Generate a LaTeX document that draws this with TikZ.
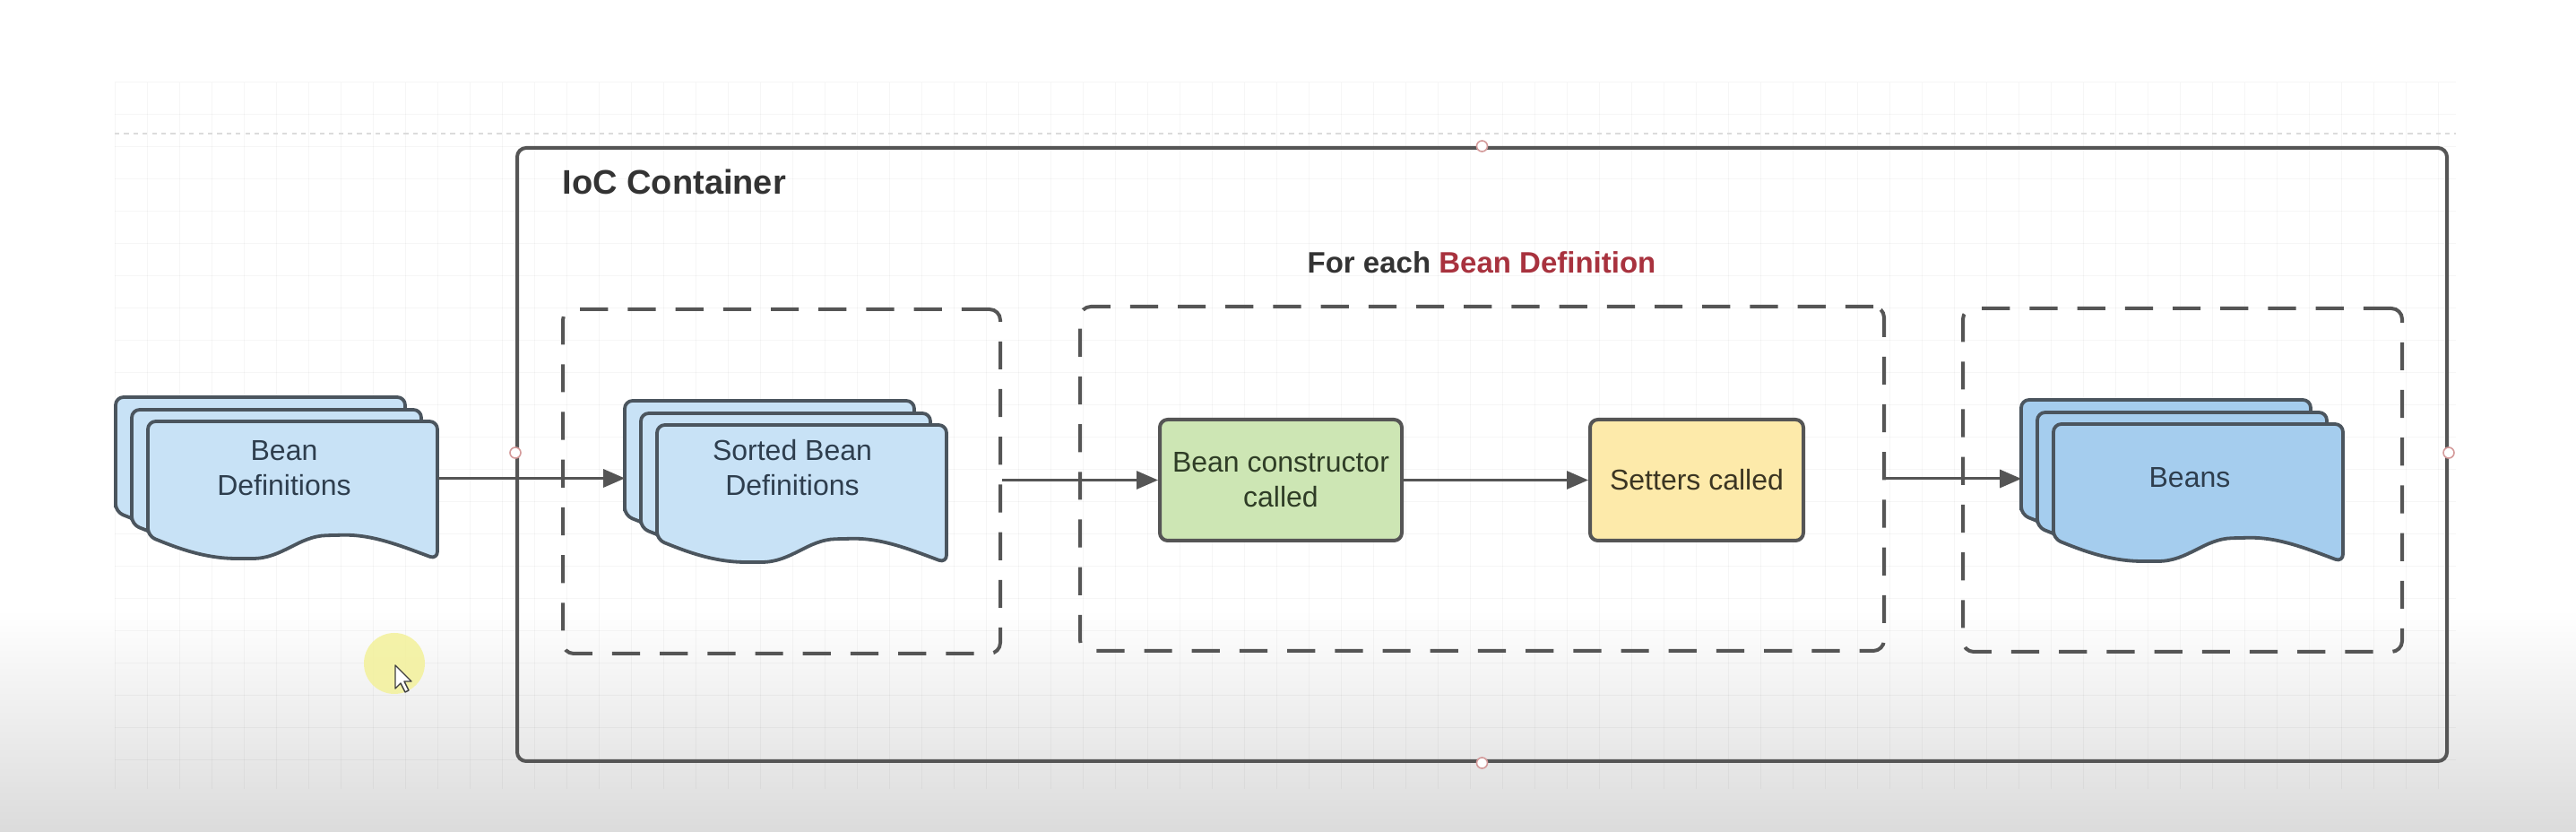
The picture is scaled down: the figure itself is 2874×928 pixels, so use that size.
\documentclass[tikz,border=0pt]{standalone}
\usepackage{fontspec}
\setmainfont{Liberation Sans}
\usetikzlibrary{arrows.meta,calc}
\definecolor{sheetblue}{HTML}{C8E2F6}
\definecolor{beanblue}{HTML}{A5CDEE}
\definecolor{boxgreen}{HTML}{CDE6B4}
\definecolor{boxyellow}{HTML}{FDEAAA}
\definecolor{beanred}{HTML}{A8323E}
\definecolor{edge}{HTML}{4B555E}
\definecolor{frame}{HTML}{555555}
\definecolor{sheettext}{HTML}{2E3E4E}
\definecolor{greentext}{HTML}{2F3D26}
\definecolor{yellowtext}{HTML}{3B3522}
\definecolor{handle}{HTML}{D49A9A}
\definecolor{cursorglow}{HTML}{F3F19A}
\newcommand\docsheet[3]{%
  \filldraw[sheetline, fill=#3, shift={(#1,#2)}, rounded corners=2.2pt]
    (0,128) -- (0,0) -- (323,0) -- (323,154)
    .. controls (280,138) and (250,126) .. (208,127)
    .. controls (168,128) and (150,153) .. (108,153)
    .. controls (62,153) and (30,140) .. (0,128) -- cycle;}
\newcommand\docstack[3]{%
  \docsheet{#1-36}{#2-27}{#3}%
  \docsheet{#1-18}{#2-13}{#3}%
  \docsheet{#1}{#2}{#3}}
\begin{document}
\begin{tikzpicture}[x=0.25pt,y=-0.25pt,
  sheetline/.style={draw=edge, line width=0.95pt, line join=round},
  gridline/.style={draw=black, draw opacity=0.035, line width=0.25pt},
  container/.style={draw=frame, line width=1pt, rounded corners=2.5pt, inner sep=0pt},
  grp/.style={draw=frame, line width=1pt, rounded corners=3pt, dash pattern=on 7.8pt off 5.5pt, inner sep=0pt},
  procbox/.style={draw=frame, line width=1pt, rounded corners=2.2pt, align=center, inner sep=0pt,
    minimum height=33.75pt, font=\fontsize{8}{9.75}\selectfont},
  stack/.style={inner sep=0pt, minimum width=89.75pt, minimum height=45.25pt},
  doctext/.style={align=center, text=sheettext, font=\fontsize{8}{9.75}\selectfont, inner sep=0pt},
  arr/.style={draw=frame, line width=0.75pt, -{Triangle[length=6pt,width=5pt]}},
  hdl/.style={draw=handle, fill=white, line width=0.4pt}]
\useasboundingbox (0,0) rectangle (2874,928);
% background
\fill[white] (0,0) rectangle (2874,928);
\shade[top color=white, bottom color=black!14] (0,680) rectangle (2874,928);
\foreach \gx in {128,164,...,2740} \draw[gridline] (\gx,92) -- (\gx,880);
\foreach \gy in {92,128,...,880} \draw[gridline] (128,\gy) -- (2740,\gy);
\draw[black!14, line width=0.5pt, dash pattern=on 1.3pt off 1.3pt] (128,149) -- (2740,149);
% container
\node[container, minimum width=538.25pt, minimum height=171pt] (ioc) at (1653.5,507) {};
\node[anchor=base west, font=\fontsize{9.5}{11}\selectfont\bfseries, text=black!80, inner sep=0pt] (ioct) at (627,217) {IoC Container};
\node[anchor=base, font=\fontsize{8.25}{10}\selectfont\bfseries, text=black!80, inner sep=0pt] (fet) at (1653,305) {For each \textcolor{beanred}{Bean Definition}};
% groups
\node[grp, minimum width=122pt, minimum height=96pt] (g1) at (872,537) {};
\node[grp, minimum width=224.25pt, minimum height=96pt] (g2) at (1653.5,534) {};
\node[grp, minimum width=122.5pt, minimum height=95.75pt] (g3) at (2435,535.5) {};
% document stacks
\docstack{165}{470}{sheetblue}
\node[stack] (bd) at (308.5,533.5) {};
\node[doctext] (bdt) at (317,522) {Bean\\Definitions};
\docstack{733}{474}{sheetblue}
\node[stack] (sorted) at (877.5,536.5) {};
\node[doctext] (sortedt) at (884,522) {Sorted Bean\\Definitions};
\docstack{2291}{473}{beanblue}
\node[stack] (beans) at (2435.5,536.5) {};
\node[doctext] (beanst) at (2443,533) {Beans};
% process boxes
\node[procbox, fill=boxgreen, text=greentext, minimum width=67.5pt] (ctor) at (1429,535.5) {Bean constructor\\called};
\node[procbox, fill=boxyellow, text=yellowtext, minimum width=59.5pt] (set) at (1893,535.5) {Setters called};
% connectors
\draw[arr] (bd.east) -- (bd.east -| sorted.west);
\draw[arr] (g1.east |- ctor.west) -- (ctor.west);
\draw[arr] (ctor.east) -- (set.west);
\draw[arr] (g2.east) -- (g2.east -| beans.west);
% selection handles
\draw[hdl] (ioc.north) circle[radius=1.5pt];
\draw[hdl] (ioc.south) circle[radius=1.5pt];
\draw[hdl] (ioc.west |- 0,505) circle[radius=1.5pt];
\draw[hdl] (ioc.east |- 0,505) circle[radius=1.5pt];
% cursor highlight
\fill[cursorglow, opacity=0.85] (440,740) circle[radius=8.5pt];
\filldraw[fill=white, draw=black!75, line width=0.35pt, line join=round]
  (441,742) -- (441,768) -- (447,762) -- (452,772) -- (456,770) -- (451,760) -- (459,760) -- cycle;
\end{tikzpicture}
\end{document}
